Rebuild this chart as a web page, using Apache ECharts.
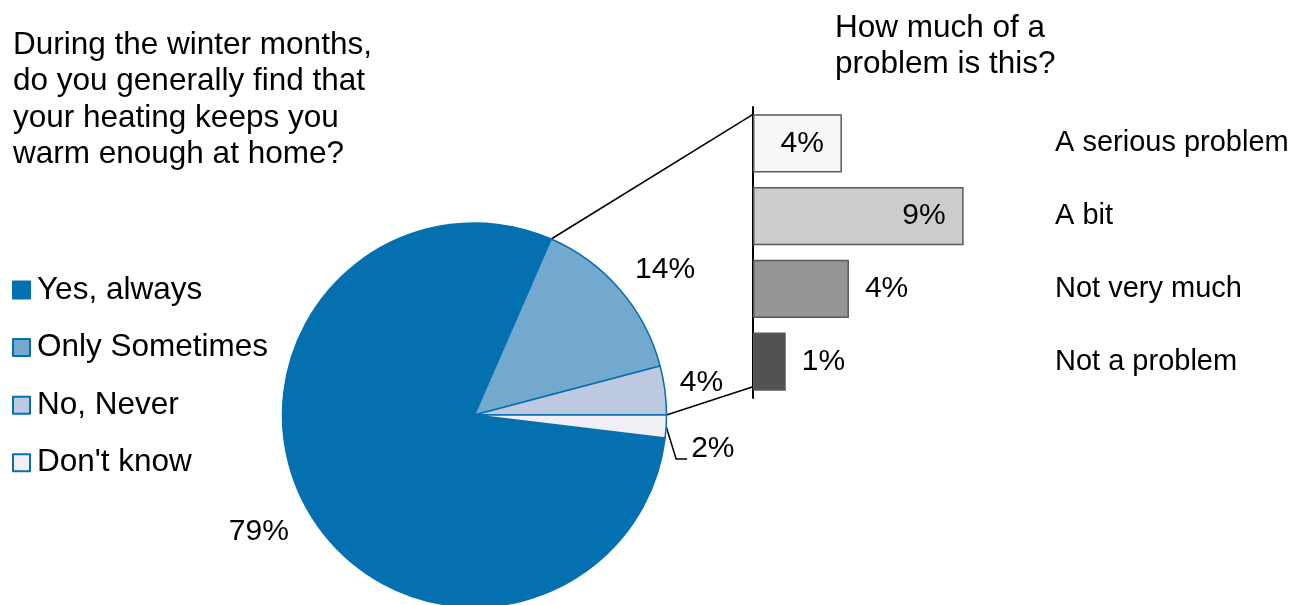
<!DOCTYPE html>
<html>
<head>
<meta charset="utf-8">
<title>Heating at home</title>
<script src="https://cdn.jsdelivr.net/npm/echarts@6/dist/echarts.min.js"></script>
<style>
	html, body { margin: 0; padding: 0; background: #fff; }
	#chart { width: 1307px; height: 605px; }
</style>
</head>
<body>
<div id="chart"></div>
<script>
// pie: "keeps you warm enough?" (percent of all)
var answers = ['Yes, always', 'Only Sometimes', 'No, Never', "Don't know"];
var answerShares = [79.4, 14.3, 4.1, 1.9];
// bar: how much of a problem (percent of all)
var problems = ['A serious problem', 'A bit', 'Not very much', 'Not a problem'];
var problemShares = [3.8, 9.0, 4.1, 1.4];

var pieColors = ['#0570b0', '#74a9cf', '#bdc9e1', '#f1eef6'];
var barColors = ['#f7f7f7', '#cccccc', '#969696', '#525252'];

var font = 'Liberation Sans, Arial, sans-serif';
var pieCenter = [474.5, 415];
var pieRadius = 192;

var total = answerShares.reduce(function(a, b) { return a + b; }, 0);
// last slice ends at 3 o'clock
var startAngle = -answerShares[3] / total * 360;

// outside label tuning per slice
var labelLen = [23, 34, 8, 10];
var labelShift = [{dx: 3, dy: 5}, {dx: -8, dy: 1}, {dx: 1, dy: -3}, {dx: 0, dy: 11}];

var chart = echarts.init(document.getElementById('chart'));

var titleStyle = { fontSize: 31.5, fontWeight: 'normal', lineHeight: 36.5, color: '#000', fontFamily: font };

var option = {
	animation: false,
	textStyle: { fontFamily: font },
	title: [{
		text: 'During the winter months,\ndo you generally find that\nyour heating keeps you\nwarm enough at home?',
		left: 13, top: 27, padding: 0,
		textStyle: titleStyle
	}, {
		text: 'How much of a\nproblem is this?',
		left: 835, top: 10, padding: 0,
		textStyle: titleStyle
	}],
	legend: {
		orient: 'vertical',
		left: 12, top: 274, padding: 0,
		itemWidth: 17, itemHeight: 17, itemGap: 25.6,
		icon: 'rect',
		data: answers,
		textStyle: { fontSize: 31.5, lineHeight: 30, color: '#000', fontFamily: font, padding: [0, 0, 0, 2] },
		itemStyle: { borderColor: '#0570b0', borderWidth: 2 }
	},
	grid: { left: 753, top: 107, width: 234, height: 291 },
	xAxis: { type: 'value', min: 0, max: 10, show: false },
	yAxis: [{
		type: 'category', inverse: true, data: problems,
		axisLine: { lineStyle: { color: '#000', width: 2 } },
		axisTick: { show: false }, axisLabel: { show: false }
	}, {
		type: 'category', inverse: true, data: problems, position: 'right',
		axisLine: { show: false }, axisTick: { show: false },
		axisLabel: { margin: 68, fontSize: 29, color: '#000', fontFamily: font }
	}],
	series: [{
		type: 'pie',
		silent: true,
		center: pieCenter,
		radius: pieRadius,
		startAngle: startAngle,
		clockwise: true,
		avoidLabelOverlap: false,
		itemStyle: { borderColor: '#0570b0', borderWidth: 1.5 },
		label: {
			show: true, position: 'outside', fontSize: 30, color: '#000', fontFamily: font,
			formatter: function(p) { return Math.round(p.value) + '%'; }
		},
		labelLayout: function(p) {
			var s = labelShift[p.dataIndex];
			var out = { dx: s.dx, dy: s.dy };
			if (p.dataIndex === 3 && p.labelLinePoints) {
				// leader line: down from the slice, then under the label
				var r = p.labelRect;
				var endX = r.x + s.dx - 4;
				var endY = r.y + s.dy + r.height / 2 + 10;
				out.labelLinePoints = [p.labelLinePoints[0], [endX - 11, endY], [endX, endY]];
			}
			return out;
		},
		data: answers.map(function(name, i) {
			return {
				name: name,
				value: answerShares[i],
				itemStyle: { color: pieColors[i] },
				labelLine: {
					show: i === 3, length: labelLen[i], length2: i === 3 ? 10 : 0,
					lineStyle: { color: '#000', width: 1.5 }
				}
			};
		})
	}, {
		type: 'bar',
		silent: true,
		barCategoryGap: '20%',
		itemStyle: { borderColor: '#595959', borderWidth: 1.5 },
		label: {
			show: true, fontSize: 30, color: '#000', fontFamily: font,
			formatter: function(p) { return Math.round(p.value) + '%'; }
		},
		data: problemShares.map(function(v, i) {
			return {
				value: v,
				itemStyle: { color: barColors[i] },
				label: i < 2 ? { position: 'insideRight', distance: 18 } : { position: 'right', distance: 16 }
			};
		})
	}]
};

chart.setOption(option);

// connector lines from the pie's broken-out slices to the bar column
function polar(deg) {
	var a = deg * Math.PI / 180;
	return [pieCenter[0] + pieRadius * Math.cos(a), pieCenter[1] - pieRadius * Math.sin(a)];
}
var topAngle = startAngle - answerShares[0] / total * 360 + 360;
var x0 = chart.convertToPixel({ xAxisIndex: 0 }, 0);
var y0 = chart.convertToPixel({ yAxisIndex: 0 }, problems[0]);
var y1 = chart.convertToPixel({ yAxisIndex: 0 }, problems[1]);
var yLast = chart.convertToPixel({ yAxisIndex: 0 }, problems[problems.length - 1]);
var halfBar = (y1 - y0) * 0.8 / 2;
var pTop = polar(topAngle);
var pBot = polar(0);

chart.setOption({
	graphic: [{
		type: 'line', silent: true,
		shape: { x1: pTop[0], y1: pTop[1], x2: x0, y2: y0 - halfBar },
		style: { stroke: '#000', lineWidth: 1.5 }
	}, {
		type: 'line', silent: true,
		shape: { x1: pBot[0], y1: pBot[1], x2: x0, y2: yLast + halfBar - 4 },
		style: { stroke: '#000', lineWidth: 1.5 }
	}]
});
</script>
</body>
</html>
